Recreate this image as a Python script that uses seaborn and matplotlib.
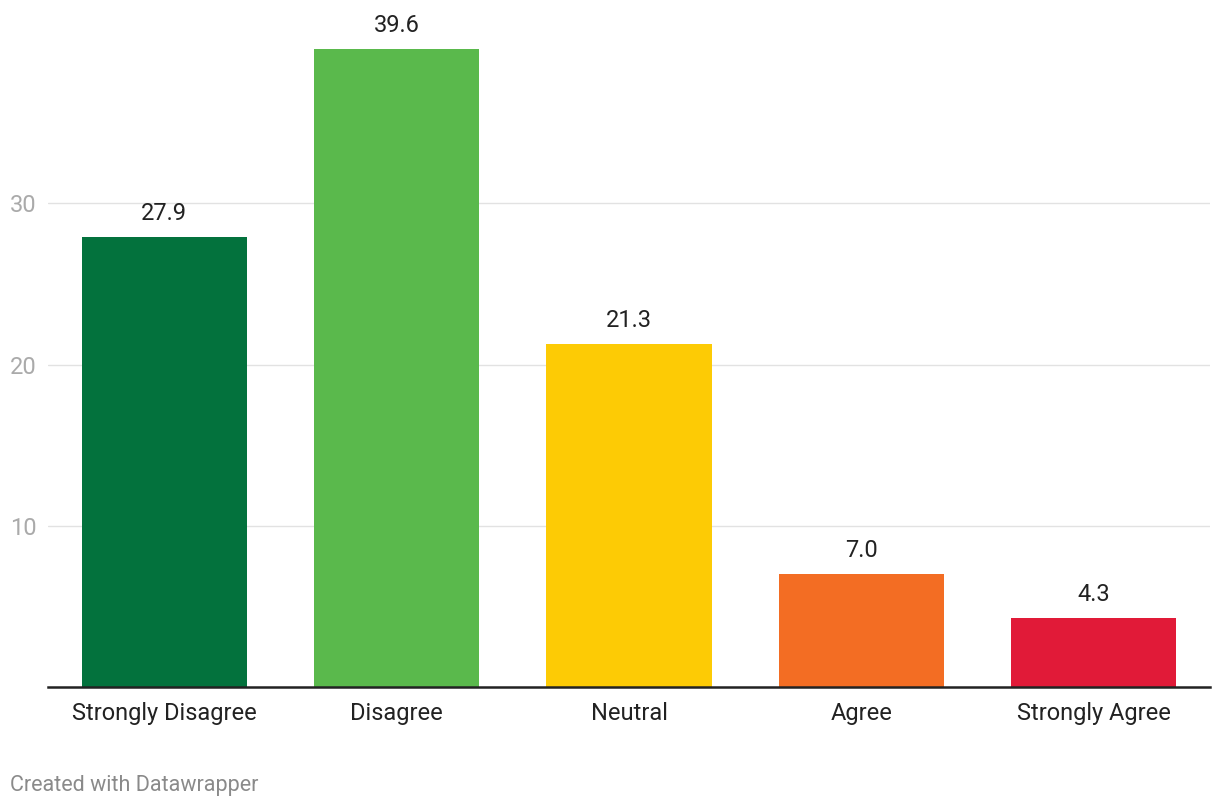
import matplotlib.pyplot as plt
import pandas as pd
import seaborn as sns

categories = ["Strongly Disagree", "Disagree", "Neutral", "Agree", "Strongly Agree"]
values = [27.9, 39.6, 21.3, 7.0, 4.3]
bar_colors = ["#03723d", "#5ab94c", "#fdcb05", "#f36d23", "#e11a38"]
y_ticks = [10, 20, 30]

sns.set_theme(style="white")
plt.rcParams["font.family"] = ["Roboto", "DejaVu Sans"]

df = pd.DataFrame({"answer": categories, "share": values})

fig = plt.figure(figsize=(12.2, 8.08), dpi=100)
ax = fig.add_axes([48 / 1220, 1 - 687 / 808, 1162 / 1220, 677 / 808])

sns.barplot(
    data=df, x="answer", y="share", hue="answer", palette=bar_colors,
    width=0.71, legend=False, ax=ax, saturation=1, linewidth=0,
)

for patch, val in zip(ax.patches, values):
    ax.text(
        patch.get_x() + patch.get_width() / 2, val + 0.75, f"{val:.1f}",
        ha="center", va="bottom", fontsize=17, color="#222222",
    )

ax.set_xlim(-0.5, 4.5)
ax.set_ylim(0, 42)
ax.set_yticks(y_ticks)
ax.set_yticklabels([str(v) for v in y_ticks])
ax.yaxis.grid(True, color="#e2e2e2", linewidth=1)
ax.set_axisbelow(True)
ax.set_xlabel("")
ax.set_ylabel("")

for side in ["top", "right", "left"]:
    ax.spines[side].set_visible(False)
ax.spines["bottom"].set_color("#222222")
ax.spines["bottom"].set_linewidth(1.8)

ax.tick_params(axis="y", length=0, pad=8, labelsize=17, labelcolor="#aaaaaa")
ax.tick_params(axis="x", length=0, pad=11, labelsize=17, labelcolor="#222222")

fig.text(10 / 1220, 1 - 785 / 808, "Created with Datawrapper",
         fontsize=15.5, color="#8a8a8a", ha="left", va="center")

fig.savefig("out.png", dpi=100)
